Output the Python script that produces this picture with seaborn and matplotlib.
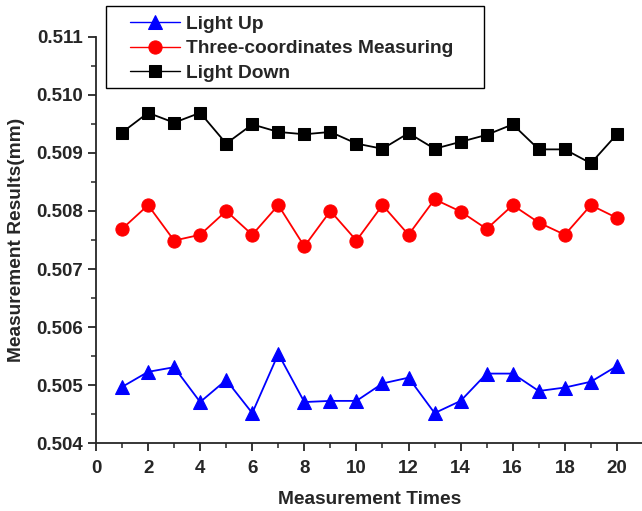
"""
Measurement results for three methods over 20 measurement times
"""

import numpy as np
import pandas as pd
import seaborn as sns
import matplotlib
matplotlib.use('Agg')
import matplotlib.pyplot as plt
from matplotlib.ticker import MultipleLocator, FormatStrFormatter
from matplotlib.patches import Rectangle

# Data
times = list(range(1, 21))
light_up = [0.50497, 0.50523, 0.50531, 0.50471, 0.50509, 0.50452, 0.50554, 0.50471, 0.50473, 0.50473,
            0.50503, 0.50513, 0.50452, 0.50473, 0.50520, 0.50520, 0.50490, 0.50496, 0.50506, 0.50533]
three_coord = [0.50769, 0.50810, 0.50749, 0.50759, 0.50800, 0.50759, 0.50810, 0.50739, 0.50800, 0.50749,
               0.50810, 0.50759, 0.50820, 0.50799, 0.50769, 0.50810, 0.50780, 0.50759, 0.50810, 0.50788]
light_down = [0.50935, 0.50969, 0.50952, 0.50969, 0.50916, 0.50949, 0.50936, 0.50932, 0.50936, 0.50916,
              0.50907, 0.50934, 0.50907, 0.50919, 0.50931, 0.50949, 0.50906, 0.50906, 0.50882, 0.50932]

series_names = ['Light Up', 'Three-coordinates Measuring', 'Light Down']
series_values = [light_up, three_coord, light_down]
colors = ['#0000ff', '#ff0000', '#000000']
markers = ['^', 'o', 's']
marker_sizes = [10.5, 9.5, 8.5]

# Style
sns.set_style('ticks')
plt.rcParams['font.family'] = ['Liberation Sans', 'DejaVu Sans']
plt.rcParams['font.weight'] = 'bold'
plt.rcParams['axes.labelweight'] = 'bold'

fig = plt.figure(figsize=(6.42, 5.11), dpi=100)
ax = fig.add_axes([0.1495, 0.1325, 0.852, 0.7957])

for name, vals, col, mk, ms in zip(series_names, series_values, colors, markers, marker_sizes):
    sns.lineplot(x=times, y=vals, ax=ax, color=col, marker=mk, markersize=ms,
                 markeredgecolor=col, linewidth=1.3, label=name)

ax.set_xlim(0, 21)
ax.set_ylim(0.504, 0.511)
ax.xaxis.set_major_locator(MultipleLocator(2))
ax.xaxis.set_minor_locator(MultipleLocator(1))
ax.yaxis.set_major_locator(MultipleLocator(0.001))
ax.yaxis.set_minor_locator(MultipleLocator(0.0005))
ax.yaxis.set_major_formatter(FormatStrFormatter('%.3f'))
ax.tick_params(which='major', length=6, width=1.3, labelsize=13.5)
ax.tick_params(axis='x', which='major', pad=6)
ax.tick_params(which='minor', length=3.5, width=1.1)
for lbl in ax.get_xticklabels() + ax.get_yticklabels():
    lbl.set_fontweight('bold')

sns.despine(ax=ax)
for side in ['left', 'bottom']:
    ax.spines[side].set_linewidth(1.3)

ax.set_xlabel('Measurement Times', fontsize=13.8, fontweight='bold', labelpad=10)
ax.set_ylabel('Measurement Results(mm)', fontsize=13.8, fontweight='bold', labelpad=8)

# Legend without its own frame; the box is drawn separately (wide side padding)
leg = ax.legend(loc='upper left', bbox_to_anchor=(130 / 642, 1 - 15.5 / 511),
                bbox_transform=fig.transFigure, fontsize=13.8, frameon=False,
                labelspacing=0.36, handlelength=2.6, handletextpad=0.3,
                borderpad=0.0, borderaxespad=0)
for t in leg.get_texts():
    t.set_fontweight('bold')
for h, ms in zip(leg.legend_handles, marker_sizes):
    h.set_linewidth(1.0)
    h.set_markersize(ms)

box = Rectangle((106 / 642, 1 - 88 / 511), (484 - 106) / 642, (88 - 6) / 511,
                transform=fig.transFigure, fill=True, facecolor='white',
                edgecolor='black', linewidth=1.0, zorder=4)
fig.patches.append(box)
leg.set_zorder(5)
fig.add_artist(leg)

fig.savefig('out.png', dpi=100)
